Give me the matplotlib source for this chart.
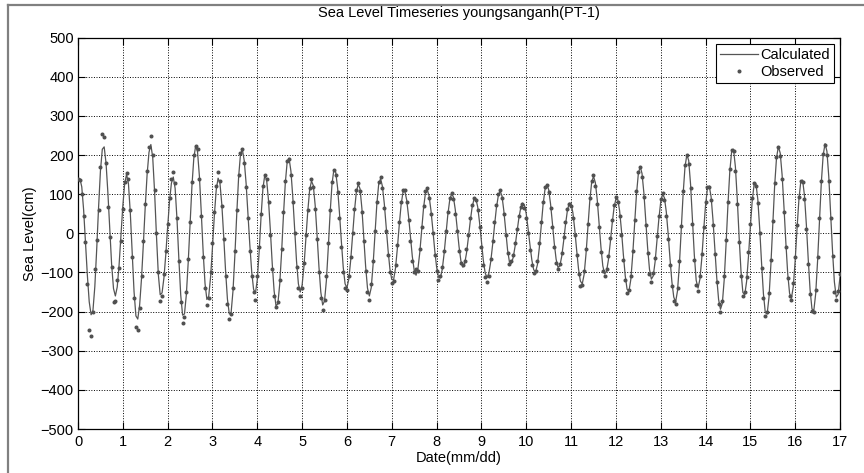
import numpy as np
import matplotlib
matplotlib.use("Agg")
import matplotlib.pyplot as plt
from matplotlib.lines import Line2D

plt.rcParams['font.family'] = ['Liberation Sans', 'DejaVu Sans']

# hourly sea level (cm), one row per day
calc_cm = [
    135, 140, 119, 60, -22, -107, -175, -208, -197, -136, -41, 66, 159, 215, 221, 180, 103, 9, -80, -141, -160, -137, -80, -5,
    71, 128, 151, 127, 52, -51, -149, -211, -219, -183, -115, -26, 69, 151, 207, 227, 194, 106, -6, -105, -157, -152, -114, -54,
    17, 82, 128, 144, 115, 36, -66, -158, -209, -206, -157, -74, 26, 121, 192, 224, 208, 146, 53, -47, -128, -169, -160, -111,
    -35, 46, 111, 141, 128, 74, -7, -95, -168, -206, -201, -146, -55, 50, 144, 203, 214, 186, 128, 51, -30, -98, -143, -153,
    -118, -46, 42, 114, 149, 136, 84, 7, -78, -147, -185, -180, -130, -49, 46, 129, 183, 192, 159, 93, 9, -71, -129, -150,
    -132, -83, -15, 55, 110, 134, 122, 71, -4, -85, -150, -183, -173, -120, -37, 53, 126, 163, 156, 116, 52, -20, -86, -129,
    -139, -117, -69, -6, 56, 104, 126, 114, 64, -9, -84, -140, -160, -139, -80, -2, 74, 126, 140, 120, 76, 18, -42, -91,
    -118, -118, -89, -38, 21, 73, 105, 108, 85, 43, -9, -59, -94, -107, -91, -49, 8, 64, 102, 112, 95, 58, 9, -43,
    -86, -112, -114, -93, -53, -2, 47, 84, 101, 93, 61, 15, -33, -70, -86, -78, -51, -12, 30, 66, 87, 89, 68, 28,
    -21, -68, -101, -113, -102, -72, -29, 19, 64, 95, 108, 96, 58, 7, -42, -73, -77, -62, -34, 2, 37, 64, 77, 73,
    50, 12, -30, -68, -93, -99, -80, -37, 18, 72, 111, 125, 112, 76, 27, -25, -66, -87, -83, -59, -21, 21, 57, 77,
    77, 52, 9, -43, -91, -122, -129, -105, -53, 15, 81, 129, 146, 130, 87, 27, -35, -83, -104, -97, -68, -24, 24, 65,
    88, 87, 58, 7, -54, -108, -143, -148, -118, -56, 23, 98, 151, 171, 153, 103, 34, -37, -92, -117, -109, -73, -20, 36,
    80, 100, 91, 55, -2, -66, -124, -163, -175, -147, -81, 9, 100, 169, 201, 186, 125, 36, -55, -120, -140, -117, -64, 6,
    71, 114, 121, 93, 34, -40, -113, -169, -194, -179, -119, -28, 72, 158, 210, 215, 170, 88, -10, -97, -151, -157, -123, -59,
    16, 83, 124, 127, 87, 13, -75, -154, -202, -206, -163, -80, 22, 120, 192, 222, 205, 150, 68, -22, -102, -153, -166, -136,
    -70, 12, 86, 132, 136, 96, 22, -66, -145, -193, -197, -154, -71, 30, 129, 200, 229, 210, 145, 52, -45, -124, -163, -156,
    -112,
]

obs_cm = [
    138, 136, 100, 45, -22, -130, -246, -263, -200, -90, -18, 59, 170, 253, 245, 179, 67, -10, -86, -176, -172, -120, -88, -20,
    62, 130, 153, 138, 60, -60, -165, -240, -246, -190, -110, -20, 75, 160, 220, 248, 200, 110, 0, -100, -174, -160, -105, -45,
    25, 90, 138, 157, 128, 40, -70, -175, -229, -215, -150, -65, 30, 130, 200, 222, 215, 140, 45, -60, -140, -184, -165, -100,
    -25, 55, 120, 158, 135, 70, -15, -110, -180, -219, -205, -140, -45, 60, 150, 205, 216, 180, 118, 40, -45, -110, -150, -171,
    -110, -35, 50, 120, 150, 140, 80, -5, -90, -160, -188, -175, -120, -40, 55, 135, 185, 190, 150, 80, 0, -85, -140, -160,
    -140, -75, -5, 60, 115, 140, 118, 62, -15, -100, -165, -195, -170, -110, -25, 60, 130, 162, 150, 105, 40, -35, -100, -140,
    -145, -110, -60, 0, 62, 110, 128, 108, 55, -20, -95, -150, -170, -130, -70, 5, 80, 130, 145, 115, 65, 5, -55, -100,
    -128, -122, -80, -30, 30, 80, 112, 112, 80, 35, -20, -70, -100, -92, -95, -40, 15, 70, 108, 116, 90, 50, 0, -55,
    -95, -118, -110, -85, -45, 5, 55, 90, 104, 88, 50, 5, -45, -75, -80, -70, -40, -5, 38, 72, 90, 86, 60, 15,
    -35, -80, -112, -125, -110, -65, -20, 28, 72, 100, 110, 90, 50, -5, -50, -78, -70, -55, -25, 10, 45, 68, 75, 65,
    40, 0, -42, -80, -102, -95, -70, -25, 28, 80, 118, 124, 105, 65, 15, -35, -75, -92, -78, -50, -10, 30, 62, 76,
    70, 40, -5, -55, -105, -135, -132, -95, -40, 25, 90, 135, 148, 122, 75, 15, -48, -95, -110, -90, -58, -12, 35, 72,
    92, 80, 45, -5, -68, -120, -152, -145, -108, -45, 35, 108, 158, 170, 145, 92, 22, -50, -105, -125, -102, -62, -8, 45,
    88, 102, 85, 45, -15, -80, -135, -172, -180, -140, -70, 20, 108, 175, 200, 178, 115, 25, -68, -132, -148, -110, -52, 15,
    80, 118, 118, 85, 22, -52, -125, -180, -200, -172, -108, -18, 80, 165, 212, 210, 160, 76, -22, -110, -160, -150, -112, -48,
    25, 90, 128, 122, 78, 2, -88, -165, -210, -200, -152, -68, 32, 128, 196, 220, 198, 140, 55, -35, -115, -160, -170, -128,
    -60, 22, 92, 135, 132, 88, 12, -78, -155, -198, -200, -145, -60, 40, 135, 202, 226, 200, 135, 40, -58, -150, -171, -148,
    -105,
]

x_ticks = list(range(0, 18))
y_ticks = list(range(-500, 501, 100))

# time axis in days, one sample per hour
t_days = np.arange(len(calc_cm)) / 24.0

line_col = '#555555'
dot_col = '#505050'
fs = 10.5

fig = plt.figure(figsize=(8.64, 4.73), dpi=100)
ax = fig.add_axes([0.0903, 0.0930, 0.8819, 0.8273])

ax.plot(t_days, calc_cm, color=line_col, linewidth=0.9, zorder=3)
ax.plot(t_days, obs_cm, linestyle='none', marker='.', markersize=3.8,
        color=dot_col, zorder=4)

ax.set_xlim(0, 17)
ax.set_ylim(-500, 500)
ax.set_xticks(x_ticks)
ax.set_yticks(y_ticks)
ax.tick_params(direction='in', top=True, right=True, length=5, width=0.8,
               labelsize=fs, colors='black', pad=3)
ax.tick_params(axis='x', pad=4)
ax.grid(True, linestyle=':', color='black', linewidth=0.7)
for s in ax.spines.values():
    s.set_linewidth(0.9)

ax.set_title('Sea Level Timeseries youngsanganh(PT-1)', fontsize=fs, pad=15)
ax.set_xlabel('Date(mm/dd)', fontsize=fs, labelpad=2)
ax.set_ylabel('Sea Level(cm)', fontsize=fs, labelpad=3)

handles = [Line2D([], [], color=line_col, linewidth=0.9),
           Line2D([], [], linestyle='none', marker='.', markersize=3.8, color=dot_col)]
leg = ax.legend(handles, ['Calculated', 'Observed'], loc='upper right',
                fontsize=fs, fancybox=False, framealpha=1, edgecolor='black',
                borderaxespad=0.4, handlelength=2.6, handletextpad=0.15,
                borderpad=0.3, labelspacing=0.2)
leg.get_frame().set_linewidth(0.8)

# outer frame of the scanned figure (left and top edges)
fig.add_artist(Line2D([8 / 864, 8 / 864], [0, 1 - 5 / 473], transform=fig.transFigure,
                      color='#808080', linewidth=1.6))
fig.add_artist(Line2D([8 / 864, 1], [1 - 5 / 473, 1 - 5 / 473], transform=fig.transFigure,
                      color='#808080', linewidth=1.6))

fig.savefig('out.png', dpi=100)
